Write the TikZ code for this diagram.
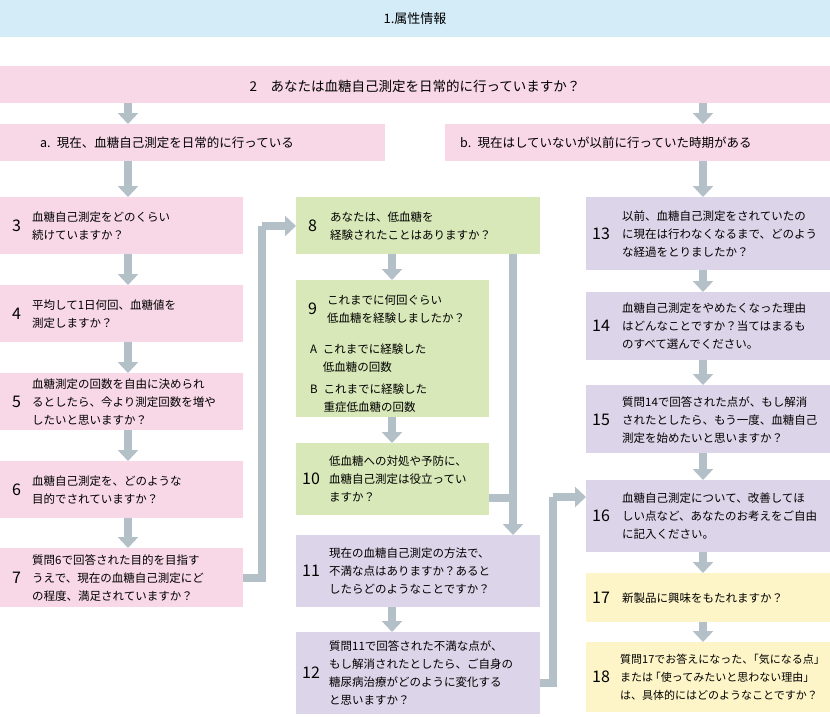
\documentclass[tikz,border=0pt]{standalone}
\usepackage{fontspec}
\setmainfont{Noto Sans CJK JP}
\usetikzlibrary{arrows.meta}
\definecolor{blu}{HTML}{D4ECF8}
\definecolor{pnk}{HTML}{F8D8E6}
\definecolor{grn}{HTML}{D8E8B8}
\definecolor{prp}{HTML}{DCD4E8}
\definecolor{ylw}{HTML}{FDF5C8}
\definecolor{arr}{HTML}{B4C0C8}
\begin{document}
\begin{tikzpicture}[x=1pt,y=-1pt,
  box/.style={fill=#1,draw=none},
  num/.style={anchor=west,font=\fontsize{16}{16}\selectfont,inner sep=0pt},
  txt/.style={anchor=west,align=left,font=\fontsize{11.5}{18}\selectfont,inner sep=0pt},
  ar/.style={draw=arr,line width=8pt,-{Triangle[width=20pt,length=11pt]}},
  ln/.style={draw=arr,line width=8pt}]
\useasboundingbox (0,0) rectangle (830,716);
% boxes
\path[box=blu] (0,0) rectangle (830,37) node[midway,font=\fontsize{13}{13}\selectfont] (t1) {1.属性情報};
\path[box=pnk] (0,66) rectangle (830,103);
\node[font=\fontsize{13.5}{13}\selectfont] (t2) at (415,86) {2\quad あなたは血糖自己測定を日常的に行っていますか？};
\path[box=pnk] (0,124) rectangle (385,161);
\node[txt,font=\fontsize{12.5}{18}\selectfont] (ta) at (40,143) {a.\enspace 現在、血糖自己測定を日常的に行っている};
\path[box=pnk] (445,124) rectangle (830,161);
\node[txt,font=\fontsize{12.5}{18}\selectfont] (tb) at (460,143) {b.\enspace 現在はしていないが以前に行っていた時期がある};
\coordinate (q2a) at (128,103); \coordinate (aa) at (128,124);
\coordinate (q2b) at (703,103); \coordinate (bb) at (703,124);
\draw[ar] (q2a) -- (aa); \draw[ar] (q2b) -- (bb);
\coordinate (a1) at (128,161); \coordinate (b1) at (703,161);
% left column
\path[box=pnk] (0,197) rectangle (243,254);
\node[num] (n3) at (12,226) {3}; \node[txt] (t3) at (32,226) {血糖自己測定をどのくらい\\続けていますか？};
\path[box=pnk] (0,285) rectangle (243,342);
\node[num] (n4) at (12,314) {4}; \node[txt] (t4) at (32,314) {平均して1日何回、血糖値を\\測定しますか？};
\path[box=pnk] (0,373) rectangle (243,430);
\node[num] (n5) at (12,402) {5}; \node[txt] (t5) at (32,402) {血糖測定の回数を自由に決められ\\るとしたら、今より測定回数を増や\\したいと思いますか？};
\path[box=pnk] (0,461) rectangle (243,518);
\node[num] (n6) at (12,490) {6}; \node[txt] (t6) at (32,490) {血糖自己測定を、どのような\\目的でされていますか？};
\path[box=pnk] (0,548) rectangle (243,607);
\node[num] (n7) at (12,578) {7}; \node[txt] (t7) at (32,578) {質問6で回答された目的を目指す\\うえで、現在の血糖自己測定にど\\の程度、満足されていますか？};
\draw[ar] (a1) -- (128,197);
\draw[ar] (128,254) -- (128,285);
\draw[ar] (128,342) -- (128,373);
\draw[ar] (128,430) -- (128,461);
\draw[ar] (128,518) -- (128,548);
% middle
\path[box=grn] (296,197) rectangle (540,254);
\node[num] (n8) at (308,226) {8}; \node[txt] (t8) at (330,226) {あなたは、低血糖を\\経験されたことはありますか？};
\path[box=grn] (296,280) rectangle (489,417);
\node[num] (n9) at (308,309) {9}; \node[txt] (t9) at (327,309) {これまでに何回ぐらい\\低血糖を経験しましたか？};
\node[txt] (t9a) at (310,358) {A\enspace これまでに経験した\\\phantom{A\enspace}低血糖の回数};
\node[txt] (t9b) at (310,398) {B\enspace これまでに経験した\\\phantom{B\enspace}重症低血糖の回数};
\path[box=grn] (296,443) rectangle (489,515);
\node[num] (n10) at (302,479) {10}; \node[txt] (t10) at (329,479) {低血糖への対処や予防に、\\血糖自己測定は役立ってい\\ますか？};
\path[box=prp] (296,535) rectangle (540,607);
\node[num] (n11) at (302,571) {11}; \node[txt] (t11) at (329,571) {現在の血糖自己測定の方法で、\\不満な点はありますか？あると\\したらどのようなことですか？};
\path[box=prp] (296,632) rectangle (540,714);
\node[num] (n12) at (302,673) {12}; \node[txt] (t12) at (329,673) {質問11で回答された不満な点が、\\もし解消されたとしたら、ご自身の\\糖尿病治療がどのように変化する\\と思いますか？};
\draw[ar] (392,254) -- (392,280);
\draw[ar] (392,417) -- (392,443);
\draw[ar] (392,607) -- (392,632);
\draw[ln] (243,578) -- (262,578) -- (262,226);
\draw[ar] (262,226) -- (296,226);
\draw[ln] (489,498) -- (513,498);
\draw[ar] (513,254) -- (513,535);
\draw[ln] (540,683) -- (553,683) -- (553,497);
\draw[ar] (553,497) -- (586,497);
% right
\path[box=prp] (586,197) rectangle (830,270);
\node[num] (n13) at (592,234) {13}; \node[txt] (t13) at (622,234) {以前、血糖自己測定をされていたの\\に現在は行わなくなるまで、どのよう\\な経過をとりましたか？};
\path[box=prp] (586,292) rectangle (830,360);
\node[num] (n14) at (592,326) {14}; \node[txt] (t14) at (622,326) {血糖自己測定をやめたくなった理由\\はどんなことですか？当てはまるも\\のすべて選んでください。};
\path[box=prp] (586,385) rectangle (830,453);
\node[num] (n15) at (592,420) {15}; \node[txt] (t15) at (622,420) {質問14で回答された点が、もし解消\\されたとしたら、もう一度、血糖自己\\測定を始めたいと思いますか？};
\path[box=prp] (586,480) rectangle (830,552);
\node[num] (n16) at (592,516) {16}; \node[txt] (t16) at (622,516) {血糖自己測定について、改善してほ\\しい点など、あなたのお考えをご自由\\に記入ください。};
\path[box=ylw] (586,573) rectangle (830,622);
\node[num] (n17) at (592,598) {17}; \node[txt] (t17) at (622,598) {新製品に興味をもたれますか？};
\path[box=ylw] (586,642) rectangle (830,712);
\node[num] (n18) at (592,677) {18}; \node[txt,font=\fontsize{11}{18}\selectfont] (t18) at (620,677) {質問17でお答えになった、\hspace{-0.5em}「気になる点」\\または\hspace{-0.3em}「使ってみたいと思わない理由」\\は、具体的にはどのようなことですか？};
\draw[ar] (b1) -- (703,197);
\draw[ar] (703,270) -- (703,292);
\draw[ar] (703,360) -- (703,385);
\draw[ar] (703,453) -- (703,480);
\draw[ar] (703,552) -- (703,573);
\draw[ar] (703,622) -- (703,642);
\end{tikzpicture}
\end{document}
